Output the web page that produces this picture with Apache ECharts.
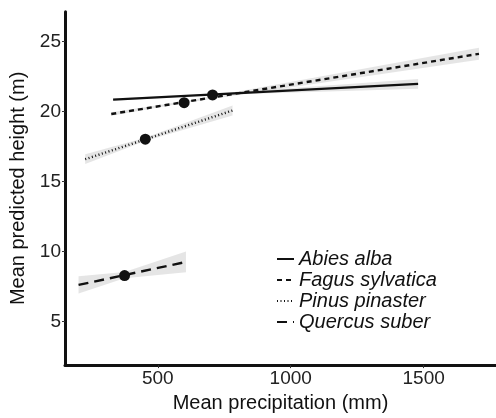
<!DOCTYPE html>
<html><head><meta charset="utf-8">
<script src="https://cdn.jsdelivr.net/npm/echarts@6/dist/echarts.min.js"></script>
<style>html,body{margin:0;padding:0;background:#fff}#c{width:496px;height:418px}</style>
</head><body><div id="c"></div>
<script>
// ---- data ----
const species = ['Abies alba', 'Fagus sylvatica', 'Pinus pinaster', 'Quercus suber'];
// fitted line endpoints (precipitation mm, height m)
const abiesX = [332, 1479],   abiesY = [20.84, 21.97];
const fagusX = [325, 1708],   fagusY = [19.81, 24.11];
const pinusX = [227, 781],    pinusY = [16.58, 20.06];
const quercusX = [202, 606],  quercusY = [7.60, 9.24];
// confidence band (start, near mean, end)
const abiesBandX = [332, 706, 1479],  abiesLo = [20.76, 21.16, 21.62],  abiesHi = [20.92, 21.26, 22.32];
const fagusBandX = [325, 599, 1708],  fagusLo = [19.69, 20.60, 23.68],  fagusHi = [19.93, 20.72, 24.54];
const pinusBandX = [227, 453, 781],   pinusLo = [16.23, 17.88, 19.71],  pinusHi = [16.93, 18.12, 20.41];
const quercusBandX = [202, 375, 606], quercusLo = [6.98, 8.08, 8.50],   quercusHi = [8.22, 8.52, 9.98];
// mean points
const meanX = [706, 599, 453, 375];
const meanY = [21.17, 20.62, 18.01, 8.27];
// axis ticks
const xTicks = [500, 1000, 1500];
const yTicks = [5, 10, 15, 20, 25];

const BAND = 'rgba(153,153,153,0.26)';
const INK = '#111';

function band(xs, lo, hi) {
  return {
    type: 'custom', silent: true, z: 1,
    data: xs.map((x, i) => [x, lo[i], hi[i]]),
    encode: { x: 0, y: [1, 2] },
    renderItem: function (params, api) {
      if (params.dataIndexInside !== 0) return null;
      const pts = [];
      for (let i = 0; i < xs.length; i++) pts.push(api.coord([xs[i], hi[i]]));
      for (let i = xs.length - 1; i >= 0; i--) pts.push(api.coord([xs[i], lo[i]]));
      return { type: 'polygon', shape: { points: pts }, style: { fill: BAND } };
    }
  };
}
function fit(name, xs, ys, type, width) {
  return {
    name: name, type: 'line', z: 3, symbol: 'none', silent: true,
    data: xs.map((x, i) => [x, ys[i]]),
    lineStyle: { color: INK, width: width, type: type, cap: 'butt' },
    itemStyle: { color: INK }
  };
}

const chart = echarts.init(document.getElementById('c'), null, { renderer: 'canvas' });
chart.setOption({
  animation: false,
  backgroundColor: '#fff',
  textStyle: { fontFamily: 'Liberation Sans, Arial, sans-serif' },
  grid: { left: 63.5, right: 0, top: 11.7, bottom: 48.7, containLabel: false },
  legend: {
    data: species, orient: 'vertical', left: 276, top: 249,
    itemWidth: 17, itemHeight: 14, itemGap: 1, padding: 0,
    itemStyle: { opacity: 0, color: 'transparent', borderWidth: 0 },
    textStyle: { fontStyle: 'italic', fontSize: 20, color: INK, fontFamily: 'Liberation Sans' }
  },
  xAxis: {
    type: 'value', min: 151, max: 1772,
    name: 'Mean precipitation (mm)', nameLocation: 'middle', nameGap: 25,
    nameTextStyle: { fontSize: 20, color: INK },
    axisLine: { show: true, onZero: false, lineStyle: { color: INK, width: 3 } },
    axisTick: { show: true, length: 3, customValues: xTicks, lineStyle: { color: '#333', width: 1 } },
    axisLabel: { customValues: xTicks, fontSize: 19, color: '#222', margin: 4, formatter: v => String(v) },
    splitLine: { show: false }
  },
  yAxis: {
    type: 'value', min: 1.87, max: 27.12,
    name: 'Mean predicted height (m)', nameLocation: 'middle', nameGap: 37,
    nameTextStyle: { fontSize: 20, color: INK },
    axisLine: { show: true, onZero: false, lineStyle: { color: INK, width: 3 } },
    axisTick: { show: true, length: 3, customValues: yTicks, lineStyle: { color: '#333', width: 1 } },
    axisLabel: { customValues: yTicks, fontSize: 19, color: '#222', margin: 4, formatter: v => String(v) },
    splitLine: { show: false }
  },
  series: [
    band(abiesBandX, abiesLo, abiesHi),
    band(fagusBandX, fagusLo, fagusHi),
    band(pinusBandX, pinusLo, pinusHi),
    band(quercusBandX, quercusLo, quercusHi),
    fit(species[0], abiesX, abiesY, 'solid', 2.2),
    fit(species[1], fagusX, fagusY, [5, 4], 2.4),
    fit(species[2], pinusX, pinusY, [1, 2.5], 2.4),
    fit(species[3], quercusX, quercusY, [10, 6], 2.4),
    {
      type: 'scatter', z: 4, silent: true, symbolSize: 11,
      data: meanX.map((x, i) => [x, meanY[i]]),
      itemStyle: { color: INK, opacity: 1 }
    }
  ]
});
</script></body></html>
